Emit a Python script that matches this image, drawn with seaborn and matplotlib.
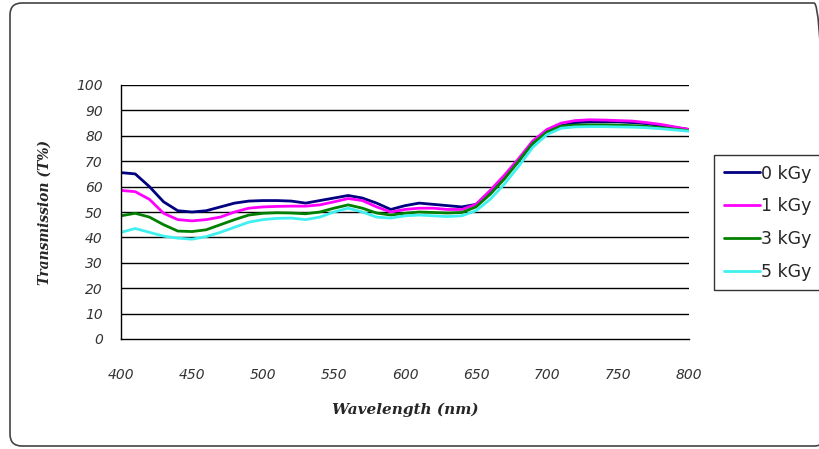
import numpy as np
import pandas as pd
import matplotlib
matplotlib.use('Agg')
import matplotlib.pyplot as plt
import seaborn as sns
from matplotlib.patches import FancyBboxPatch

# wavelength grid (nm) and transmission (%)
wavelength = [400, 410, 420, 430, 440, 450, 460, 470, 480, 490, 500, 510, 520, 530,
              540, 550, 560, 570, 580, 590, 600, 610, 620, 630, 640, 650, 660, 670,
              680, 690, 700, 710, 720, 730, 740, 750, 760, 770, 780, 790, 800]

t_0kgy = [65.5, 65, 60, 54, 50.5, 50, 50.5, 52, 53.5, 54.3, 54.5, 54.5, 54.3, 53.5,
          54.5, 55.5, 56.5, 55.5, 53.5, 51, 52.5, 53.5, 53, 52.5, 52, 53, 58, 63.5,
          70, 77, 81.5, 84, 85.2, 85.5, 85.5, 85.5, 85.2, 84.8, 84, 83.3, 82.5]
t_1kgy = [58.5, 58, 55, 49.5, 47, 46.5, 47, 48, 50, 51.5, 52, 52.2, 52.3, 52.3,
          52.8, 54, 55.3, 54.5, 52, 50, 51, 51.5, 51.5, 51, 51, 53, 58.5, 64.5,
          71, 78, 82.5, 85, 86, 86.3, 86.2, 86, 85.8, 85.2, 84.5, 83.5, 82.5]
t_3kgy = [48.5, 49.5, 48, 45, 42.5, 42.3, 43, 45, 47, 48.8, 49.5, 49.7, 49.6, 49.3,
          50, 51.5, 52.8, 51.5, 49.6, 48.8, 49.5, 50, 49.8, 49.6, 49.8, 52, 57, 63,
          70, 77, 81.5, 83.8, 84.2, 84.3, 84.3, 84.2, 84, 83.7, 83.2, 82.6, 82]
t_5kgy = [42, 43.5, 42, 40.5, 39.7, 39.3, 40.3, 42, 44, 46, 47, 47.5, 47.6, 47,
          48, 50, 51.5, 50, 48, 47.6, 48.5, 48.8, 48.5, 48.2, 48.5, 50.5, 55, 61,
          68, 75.5, 80.5, 83, 83.5, 83.6, 83.6, 83.5, 83.4, 83.2, 82.8, 82.3, 81.8]

doses = ['0 kGy', '1 kGy', '3 kGy', '5 kGy']
colors = ['#000080', '#FF00FF', '#008000', '#40F0F0']

df = pd.concat([
    pd.DataFrame({'wavelength': wavelength, 'T': vals, 'dose': d})
    for d, vals in zip(doses, [t_0kgy, t_1kgy, t_3kgy, t_5kgy])
])

sns.set_style('white')
fig = plt.figure(figsize=(8.19, 4.49), dpi=100)
ax = fig.add_axes([121 / 819, 1 - 339 / 449, (689 - 121) / 819, (339 - 85) / 449])

sns.lineplot(data=df, x='wavelength', y='T', hue='dose', hue_order=doses,
             palette=colors, linewidth=2, ax=ax)

ax.set_xlim(400, 800)
ax.set_ylim(0, 100)
ax.set_xticks(range(400, 801, 50))
ax.set_yticks(range(0, 101, 10))
for y in range(10, 101, 10):
    ax.axhline(y, color='black', linewidth=1, zorder=0)

for s in ['top', 'right']:
    ax.spines[s].set_visible(False)
for s in ['left', 'bottom']:
    ax.spines[s].set_color('black')
    ax.spines[s].set_linewidth(1)

ax.tick_params(axis='both', direction='out', length=5, width=1, color='black',
               labelsize=10, labelcolor='#333333')
ax.tick_params(axis='x', pad=16)
ax.tick_params(axis='y', pad=8)
for lbl in ax.get_xticklabels() + ax.get_yticklabels():
    lbl.set_fontstyle('italic')

ax.set_xlabel('Wavelength (nm)', fontsize=11, fontweight='bold', fontstyle='italic',
              family='DejaVu Serif', labelpad=15)
ax.set_ylabel('Transmission (T%)', fontsize=10, fontweight='bold', fontstyle='italic',
              family='DejaVu Serif', labelpad=18)

leg = ax.legend(loc='upper left', bbox_to_anchor=(714 / 819, 1 - 155 / 449),
                bbox_transform=fig.transFigure, frameon=True, fancybox=False,
                prop={'family': 'DejaVu Sans', 'size': 12.5},
                handlelength=2.1, handletextpad=0.05, labelspacing=0.85,
                borderpad=0.55, borderaxespad=0)
leg.get_frame().set_edgecolor('black')
leg.get_frame().set_linewidth(1)

# rounded outer border of the chart area, in inches
border = FancyBboxPatch((0.10, 0.03), 8.16, 4.43,
                        boxstyle='round,pad=0,rounding_size=0.12',
                        transform=fig.dpi_scale_trans, fill=False,
                        edgecolor='#444444', linewidth=1.2)
fig.patches.append(border)

fig.savefig('out.png', dpi=100)
